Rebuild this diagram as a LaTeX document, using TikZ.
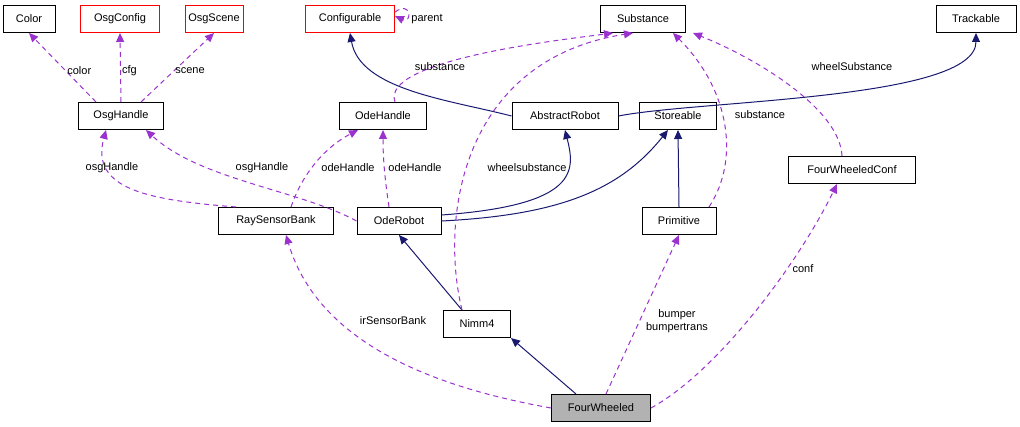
\documentclass[tikz,border=0pt]{standalone}
\usepackage{fontspec}
\setmainfont{Liberation Sans}
\usetikzlibrary{arrows.meta}
\definecolor{pur}{HTML}{9A32CD}
\definecolor{nav}{HTML}{191970}
\begin{document}
\begin{tikzpicture}[x=1pt,y=-1pt,line width=1pt,
 box/.style={draw,minimum height=27pt,inner sep=2pt,font=\fontsize{11}{13}\selectfont},
 red/.style={box,draw=red},
 use/.style={draw=pur,dash pattern=on 5pt off 4pt,-{Triangle[length=9pt,width=8pt,fill=pur]}},
 inh/.style={draw=nav,-{Triangle[length=9pt,width=8pt,fill=nav]}},
 lab/.style={font=\fontsize{11}{13}\selectfont,inner sep=1pt}]
\useasboundingbox (0,0) rectangle (1020,427);
\node[box,minimum width=52pt] (color) at (29,19) {Color};
\node[red,minimum width=79pt] (cfg) at (120,19) {OsgConfig};
\node[red,minimum width=58pt] (scene) at (214,19) {OsgScene};
\node[red,minimum width=89pt] (conf) at (350,19) {Configurable};
\node[box,minimum width=85pt] (sub) at (643,19) {Substance};
\node[box,minimum width=80pt] (track) at (976,19) {Trackable};
\node[box,minimum width=85pt] (osg) at (121,116) {OsgHandle};
\node[box,minimum width=87pt] (ode) at (383,116) {OdeHandle};
\node[box,minimum width=106pt] (ar) at (565,116) {AbstractRobot};
\node[box,minimum width=77pt] (st) at (678,116) {Storeable};
\node[box,minimum width=127pt] (fwc) at (852,170) {FourWheeledConf};
\node[box,minimum width=115pt] (rsb) at (276,221) {RaySensorBank};
\node[box,minimum width=84pt] (or) at (399,221) {OdeRobot};
\node[box,minimum width=74pt] (prim) at (679,221) {Primitive};
\node[box,minimum width=67pt] (nimm) at (477,324) {Nimm4};
\node[box,minimum width=99pt,fill=black!30] (fw) at (601,408) {FourWheeled};
% osg uses
\draw[use] (osg.north) ++(-25,0) -- node[lab,right,pos=0.45]{color} (color.south);
\draw[use] (osg.north) -- node[lab,right,pos=0.45]{cfg} (cfg.south);
\draw[use] (osg.north) ++(20,0) -- node[lab,right,pos=0.45]{scene} (scene.south);
% configurable self loop
\draw[use] (conf.east) ++(0,-7) .. controls (412,0) and (412,24) .. ([yshift=3]conf.east);
\node[lab] (parl) at (427,19) {parent};
% odehandle substance
\draw[use] ([xshift=12]ode.north) .. controls (380,60) and (560,40) .. ([xshift=-30]sub.south);
\node[lab] (sl1) at (440,67) {substance};
% inheritance
\draw[inh] (ar.west) .. controls (450,100) and (360,90) .. (conf.south);
\draw[inh] (ar.east) .. controls (700,100) and (976,100) .. (track.south);
\draw[inh] ([xshift=25]or.east) ++(-25,-6) .. controls (580,205) and (575,170) .. (ar.south);
\draw[inh] (or.east) .. controls (560,215) and (620,190) .. ([xshift=-10]st.south);
\draw[inh] (prim.north) -- (st.south);
\draw[inh] ([xshift=-15]nimm.north) -- (or.south);
\draw[inh] (fw.north) ++(-25,0) -- (nimm.south east);
% primitive -> substance
\draw[use] ([xshift=30]prim.north) .. controls (740,160) and (730,90) .. ([xshift=30]sub.south);
\node[lab] (sl2) at (760,115) {substance};
% fwc -> substance
\draw[use] ([xshift=-10]fwc.north) .. controls (840,110) and (760,60) .. ([xshift=50]sub.south);
\node[lab] (sl3) at (852,67) {wheelSubstance};
% nimm -> substance
\draw[use] ([xshift=-15]nimm.north) .. controls (440,220) and (460,60) .. ([xshift=-10]sub.south);
\node[lab] (sl4) at (527,168) {wheelsubstance};
% rsb and odeRobot uses
\draw[use] ([xshift=-40]rsb.north) .. controls (150,200) and (90,190) .. ([xshift=-15]osg.south);
\node[lab] (l5) at (112,168) {osgHandle};
\draw[use] ([xshift=15]rsb.north) .. controls (300,180) and (320,150) .. ([xshift=-25]ode.south);
\node[lab] (l6) at (348,168) {odeHandle};
\draw[use] (or.west) .. controls (300,190) and (200,180) .. ([xshift=25]osg.south);
\node[lab] (l7) at (262,168) {osgHandle};
\draw[use] ([xshift=-10]or.north) .. controls (385,180) and (383,160) .. (ode.south);
\node[lab] (l8) at (415,168) {odeHandle};
% fourwheeled uses
\draw[use] (fw.west) .. controls (450,390) and (320,350) .. ([xshift=10]rsb.south);
\node[lab] (l9) at (393,321) {irSensorBank};
\draw[use] ([xshift=5]fw.north) -- (prim.south);
\node[lab,align=center] (l10) at (677,321) {bumper\\bumpertrans};
\draw[use] (fw.east) .. controls (720,370) and (800,260) .. ([xshift=-15]fwc.south);
\node[lab] (l11) at (803,269) {conf};
\end{tikzpicture}
\end{document}
